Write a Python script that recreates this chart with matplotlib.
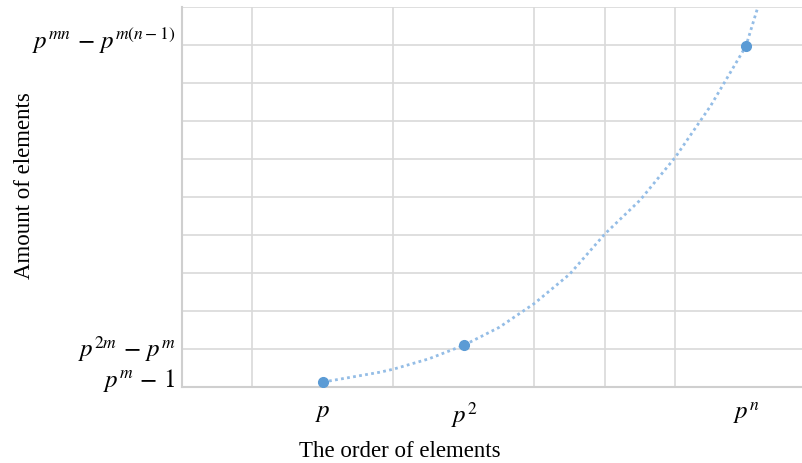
import matplotlib.pyplot as plt

# curve (x in grid units, y in grid units)
curve_x = [2.0, 2.81, 3.0, 3.5, 4.0, 4.5, 5.0, 5.5, 6.0, 6.5, 7.0, 7.5, 8.0, 8.17]
curve_y = [0.13, 0.39, 0.47, 0.74, 1.1, 1.57, 2.2, 2.97, 4.03, 4.92, 6.05, 7.4, 8.97, 10.0]

# the three marked points
point_x = [2.0, 4.0, 8.0]
point_y = [0.13, 1.1, 8.97]

x_tick_pos = [2, 4, 8]
x_tick_labels = [r"$p$", r"$p^2$", r"$p^n$"]
y_tick_pos = [0.29, 1.13, 9.24]
y_tick_labels = [r"$p^m\,-\,1$", r"$p^{2m}\,-\,p^m$", r"$p^{mn}\,-\,p^{m(n-1)}$"]

plt.rcParams["mathtext.fontset"] = "stix"

fig = plt.figure(figsize=(8.03, 4.64), dpi=100)
ax = fig.add_axes([182 / 803, 76 / 464, 621 / 803, 380 / 464])

ax.plot(curve_x, curve_y, linestyle=(0, (1, 1.2)), color="#94bde6", linewidth=2.0,
        zorder=3, clip_on=True)
ax.plot(point_x, point_y, "o", color="#5b9bd5", markersize=7, zorder=4)

ax.set_xlim(0, 8.81)
ax.set_ylim(0, 10)
ax.set_xticks(range(0, 9), minor=True)
ax.set_yticks(range(0, 11), minor=True)
ax.set_xticks(x_tick_pos)
ax.set_xticklabels(x_tick_labels, fontsize=18)
ax.set_yticks(y_tick_pos)
ax.set_yticklabels(y_tick_labels, fontsize=18)
ax.tick_params(which="both", length=0)
ax.tick_params(axis="x", pad=9)
ax.tick_params(axis="y", pad=5)
ax.grid(which="minor", color="#d9d9d9", linewidth=1.2)
ax.grid(which="major", visible=False)

for side in ["top", "right"]:
    ax.spines[side].set_visible(False)
for side in ["left", "bottom"]:
    ax.spines[side].set_color("#cfcfcf")
    ax.spines[side].set_linewidth(1.5)

fig.text(400 / 803, 1 - 452 / 464, "The order of elements", ha="center", va="center",
         family="Liberation Serif", fontsize=16.5)
fig.text(25 / 803, 1 - 186 / 464, "Amount of elements", ha="center", va="center",
         rotation=90, family="Liberation Serif", fontsize=16.5)

fig.savefig("out.png", dpi=100)
